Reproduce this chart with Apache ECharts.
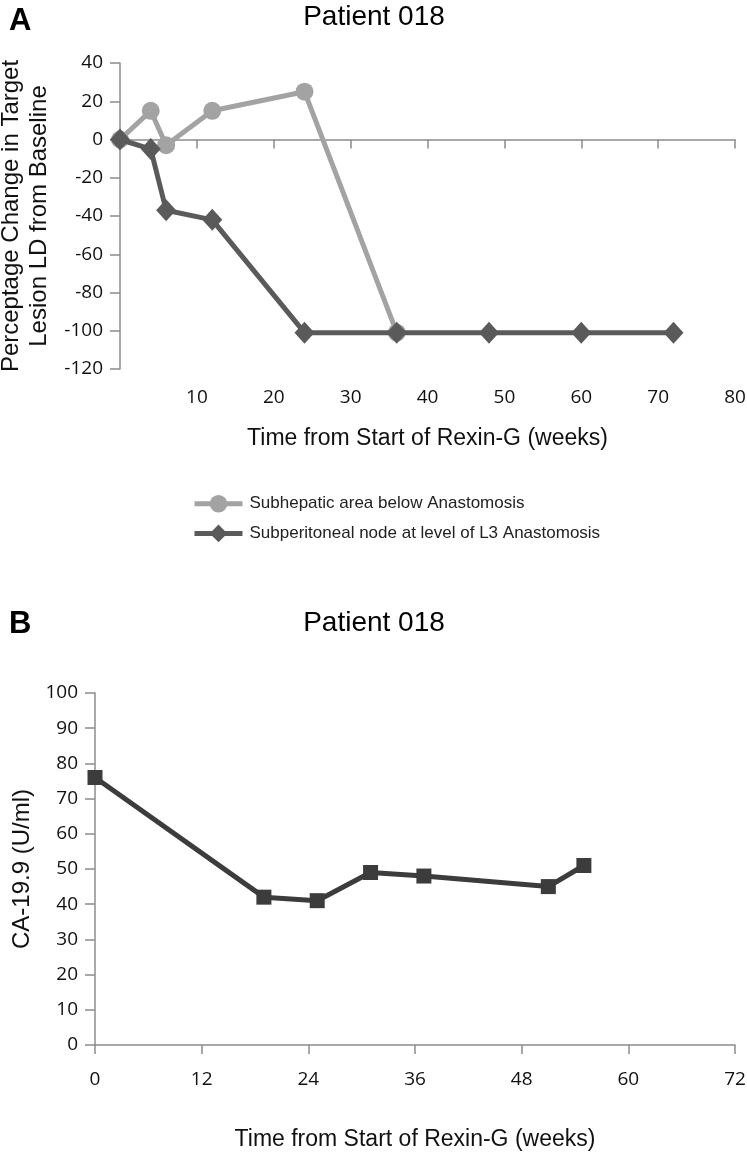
<!DOCTYPE html>
<html>
<head>
<meta charset="utf-8">
<script src="https://cdn.jsdelivr.net/npm/echarts@6/dist/echarts.min.js"></script>
<style>
html,body{margin:0;padding:0;background:#fff;}
#chart{width:747px;height:1164px;}
</style>
</head>
<body>
<div id="chart"></div>
<script>
// Panel A data (weeks, % change)
var subhepaticWeeks = [0, 4, 6, 12, 24, 36];
var subhepaticPct   = [0, 15, -3, 15, 25, -101];
var subperitonealWeeks = [0, 4, 6, 12, 24, 36, 48, 60, 72];
var subperitonealPct   = [0, -5, -37, -42, -101, -101, -101, -101, -101];
// Panel B data (weeks, CA-19.9 U/ml)
var caWeeks = [0, 19, 25, 31, 37, 51, 55];
var caValues = [76, 42, 41, 49, 48, 45, 51];

var seriesNames = ['Subhepatic area below Anastomosis', 'Subperitoneal node at level of L3 Anastomosis'];
var titleText = 'Patient 018';
var xName = 'Time from Start of Rexin-G (weeks)';
var yNameA = 'Perceptage Change in Target\nLesion LD from Baseline';
var yNameB = 'CA-19.9 (U/ml)';

function pairs(xs, ys){ return xs.map(function(x,i){ return [x, ys[i]]; }); }

var axisColor = '#8c8c8c';
var tickFont = {fontFamily:'Open Sans', fontSize:19, color:'#111'};
var nameFont = {fontFamily:'Liberation Sans', fontSize:23, color:'#111'};
var yNameFont = {fontFamily:'Liberation Sans', fontSize:24, color:'#111'};

var chart = echarts.init(document.getElementById('chart'));
chart.setOption({
  backgroundColor:'#fff',
  animation:false,
  title:[
    {text:'A', left:4, top:1, textStyle:{fontFamily:'Liberation Sans', fontWeight:'bold', fontSize:31, color:'#000'}},
    {text:titleText, left:369, textAlign:'center', top:-2, textStyle:{fontFamily:'Liberation Sans', fontWeight:'normal', fontSize:28, color:'#000'}},
    {text:'B', left:4, top:604, textStyle:{fontFamily:'Liberation Sans', fontWeight:'bold', fontSize:31, color:'#000'}},
    {text:titleText, left:369, textAlign:'center', top:604, textStyle:{fontFamily:'Liberation Sans', fontWeight:'normal', fontSize:28, color:'#000'}}
  ],
  legend:{
    orient:'vertical', left:187, top:490, itemWidth:48, itemHeight:22, itemGap:12,
    lineStyle:{width:5},
    textStyle:{fontFamily:'Liberation Sans', fontSize:17, color:'#222', padding:[0,0,0,2]},
    data:seriesNames
  },
  grid:[
    {left:120, top:63, width:615, height:306, outerBoundsMode:'none', containLabel:false},
    {left:95, top:693, width:640, height:352, outerBoundsMode:'none', containLabel:false}
  ],
  xAxis:[
    {gridIndex:0, type:'value', min:0, max:80, interval:10,
     axisLine:{onZero:true, lineStyle:{color:axisColor, width:1.5}},
     axisTick:{show:true, length:9, lineStyle:{color:axisColor, width:1.5}},
     axisLabel:Object.assign({margin:19, showMinLabel:false}, tickFont),
     splitLine:{show:false},
     name:xName, nameLocation:'middle', nameGap:58, nameTextStyle:nameFont},
    {gridIndex:1, type:'value', min:0, max:72, interval:12,
     axisLine:{lineStyle:{color:axisColor, width:1.5}},
     axisTick:{show:true, length:9, lineStyle:{color:axisColor, width:1.5}},
     axisLabel:Object.assign({margin:25}, tickFont),
     splitLine:{show:false},
     name:xName, nameLocation:'middle', nameGap:83, nameTextStyle:nameFont}
  ],
  yAxis:[
    {gridIndex:0, type:'value', min:-120, max:40, interval:20,
     axisLine:{show:true, lineStyle:{color:axisColor, width:1.5}},
     axisTick:{show:true, length:10, lineStyle:{color:axisColor, width:1.5}},
     axisLabel:Object.assign({margin:17}, tickFont),
     splitLine:{show:false},
     name:yNameA, nameLocation:'middle', nameRotate:90, nameGap:66,
     nameTextStyle:Object.assign({lineHeight:28}, yNameFont)},
    {gridIndex:1, type:'value', min:0, max:100, interval:10,
     axisLine:{show:true, lineStyle:{color:axisColor, width:1.5}},
     axisTick:{show:true, length:10, lineStyle:{color:axisColor, width:1.5}},
     axisLabel:Object.assign({margin:17}, tickFont),
     splitLine:{show:false},
     name:yNameB, nameLocation:'middle', nameRotate:90, nameGap:60, nameTextStyle:yNameFont}
  ],
  series:[
    {name:seriesNames[0], type:'line', xAxisIndex:0, yAxisIndex:0,
     data:pairs(subhepaticWeeks, subhepaticPct),
     symbol:'circle', symbolSize:18, showAllSymbol:true,
     lineStyle:{color:'#a3a3a3', width:5}, itemStyle:{color:'#a3a3a3'}, z:2},
    {name:seriesNames[1], type:'line', xAxisIndex:0, yAxisIndex:0,
     data:pairs(subperitonealWeeks, subperitonealPct),
     symbol:'diamond', symbolSize:[20,22], showAllSymbol:true,
     lineStyle:{color:'#5a5a5a', width:5}, itemStyle:{color:'#5a5a5a'}, z:3},
    {name:'CA-19.9', type:'line', xAxisIndex:1, yAxisIndex:1,
     data:pairs(caWeeks, caValues),
     symbol:'rect', symbolSize:15, showAllSymbol:true,
     lineStyle:{color:'#3c3c3c', width:5}, itemStyle:{color:'#3c3c3c'}, z:3}
  ]
});
</script>
</body>
</html>
